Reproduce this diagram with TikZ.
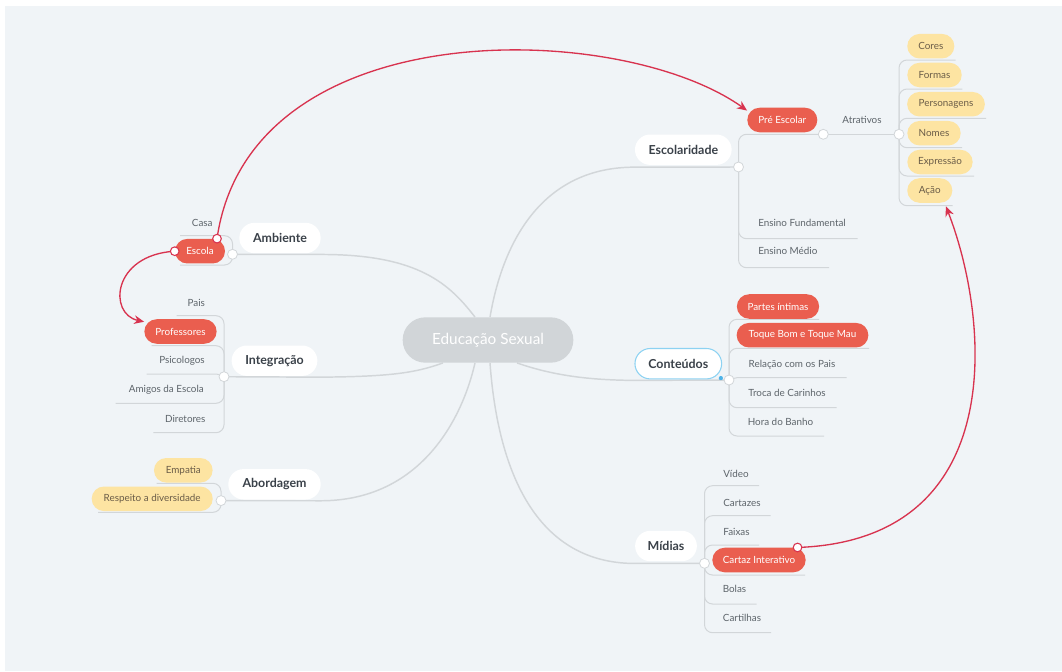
\documentclass[tikz,border=0pt]{standalone}
\usepackage{fontspec}
\setmainfont{Lato}
\usetikzlibrary{arrows.meta}
\definecolor{cbg}{HTML}{F0F4F7}
\definecolor{cline}{HTML}{D2D6D9}
\definecolor{cgray}{HTML}{D1D5D8}
\definecolor{cred}{HTML}{EA5E4F}
\definecolor{cyel}{HTML}{FDE4A2}
\definecolor{cdark}{HTML}{3A4149}
\definecolor{ctext}{HTML}{5E656B}
\definecolor{cbrown}{HTML}{6B5D48}
\definecolor{clink}{HTML}{D8334F}
\definecolor{cblue}{HTML}{8DD2F2}
\definecolor{cblued}{HTML}{4DB3E8}
\pgfdeclarelayer{bglayer}
\pgfdeclarelayer{linelayer}
\pgfdeclarelayer{toplayer}
\pgfsetlayers{bglayer,linelayer,main,toplayer}
\tikzset{
  ctrnode/.style={fill=cgray, text=white, rounded corners=16.9pt, minimum width=128pt, minimum height=34pt, font=\fontsize{11.5}{13}\selectfont, inner sep=0pt},
  mainnode/.style={fill=white, rounded corners=11.4pt, minimum height=22.8pt, text=cdark, font=\bfseries\fontsize{9.3}{11}\selectfont, inner sep=0pt},
  redpill/.style={fill=cred, text=white, rounded corners=9.2pt, minimum height=18.4pt, font=\fontsize{7.4}{9}\selectfont, inner xsep=6pt, inner ysep=0pt},
  yelpill/.style={fill=cyel, text=cbrown, rounded corners=9.2pt, minimum height=18.4pt, font=\fontsize{7.4}{9}\selectfont, inner xsep=6pt, inner ysep=0pt},
  leaf/.style={text=ctext, font=\fontsize{7.4}{9}\selectfont, inner sep=0pt},
  hub/.style={circle, fill=white, draw=cline, line width=0.6pt, minimum size=7.5pt, inner sep=0pt},
  ldot/.style={circle, fill=white, draw=clink, line width=0.8pt, minimum size=6.5pt, inner sep=0pt},
  conn/.style={draw=cline, line width=1.1pt},
  ul/.style={draw=cline, line width=0.75pt, rounded corners=6pt},
  link/.style={draw=clink, line width=1pt, -{Stealth[length=7.5pt,width=6.5pt]}},
}
\begin{document}
\begin{tikzpicture}[x=0.75pt,y=-0.75pt]
\useasboundingbox (0,0) rectangle (1062,671);
\begin{pgfonlayer}{bglayer}
\fill[cbg] (5,6) rectangle (1062,671);
\end{pgfonlayer}

% center
\node[ctrnode] (ctr) at (488,340) {Educação Sexual};

% main branches
\node[mainnode, minimum width=72.5pt] (esc) at (683.3,149.7) {Escolaridade};
\node[mainnode, minimum width=61pt] (amb) at (280,238) {Ambiente};
\node[mainnode, minimum width=64.3pt] (int) at (274.5,360.7) {Integração};
\node[mainnode, minimum width=69.3pt] (abo) at (274.5,484.3) {Abordagem};
\node[mainnode, minimum width=65pt, draw=cblue, line width=0.8pt] (con) at (678.3,363.7) {Conteúdos};
\node[mainnode, minimum width=46.3pt] (mid) at (666,546) {Mídias};

% Escolaridade
\node[redpill, minimum width=52.5pt] (pre) at (782.3,120) {Pré Escolar};
\node[leaf] (atr) at (862,120) {Atrativos};
\node[yelpill, minimum width=35.3pt] (cor) at (930.8,46.2) {Cores};
\node[yelpill, minimum width=40.8pt] (frm) at (934.5,75) {Formas};
\node[yelpill, minimum width=58.3pt] (per) at (946,104.2) {Personagens};
\node[yelpill, minimum width=40pt] (nom) at (934,133.2) {Nomes};
\node[yelpill, minimum width=49pt] (exp) at (940,162) {Expressão};
\node[yelpill, minimum width=33.8pt] (aca) at (929.8,190.5) {Ação};
\node[leaf] (ef) at (802,223) {Ensino Fundamental};
\node[leaf] (em) at (787.8,251.3) {Ensino Médio};

% Ambiente
\node[leaf] (casa) at (202.3,223.3) {Casa};
\node[redpill, minimum width=37.5pt] (escola) at (200,251.2) {Escola};

% Integracao
\node[leaf] (pais) at (196.3,303.3) {Pais};
\node[redpill, minimum width=54.2pt] (prof) at (180.5,331.5) {Professores};
\node[leaf] (psi) at (182,361) {Psicologos};
\node[leaf] (ami) at (166.3,390) {Amigos da Escola};
\node[leaf] (dir) at (185.3,419) {Diretores};

% Abordagem
\node[yelpill, minimum width=44pt] (emp) at (183.3,470.3) {Empatia};
\node[yelpill, minimum width=90.8pt] (res) at (152.2,498.8) {Respeito a diversidade};

% Conteudos
\node[redpill, minimum width=61.7pt] (par) at (778,306.5) {Partes íntimas};
\node[redpill, minimum width=98.8pt] (toq) at (802.5,335.2) {Toque Bom e Toque Mau};
\node[leaf] (rel) at (792,364.3) {Relação com os Pais};
\node[leaf] (tro) at (787,393.3) {Troca de Carinhos};
\node[leaf] (hor) at (780.5,421.7) {Hora do Banho};

% Midias
\node[leaf] (vid) at (736,474) {Vídeo};
\node[leaf] (ctz) at (742,502.7) {Cartazes};
\node[leaf] (fai) at (736.5,531.7) {Faixas};
\node[redpill, minimum width=70pt] (cin) at (759,560) {Cartaz Interativo};
\node[leaf] (bol) at (734.5,589.3) {Bolas};
\node[leaf] (cti) at (742,617.7) {Cartilhas};

% hubs
\node[hub] (escd) at (738.5,167) {};
\node[hub] (pred) at (823.3,134.3) {};
\node[hub] (atrd) at (899,134.3) {};
\node[hub] (ambd) at (232.5,254.3) {};
\node[hub] (intd) at (224,376.7) {};
\node[hub] (abod) at (221,500.6) {};
\node[hub] (cond) at (729,380) {};
\node[hub] (midd) at (704.5,563.3) {};
\fill[cblued] ([shift={(-1pt,1pt)}]con.south east) circle (1.6pt);

% underline end coordinates
\coordinate (uef) at (857.7,238.7);
\coordinate (uem) at (829,267.7);
\coordinate (ucor) at (955.7,60);
\coordinate (ufrm) at (962.3,89);
\coordinate (uper) at (986,118.3);
\coordinate (unom) at (962,147.7);
\coordinate (uexp) at (974,176);
\coordinate (uaca) at (952.7,205.7);
\coordinate (ucasa) at (180,235.7);
\coordinate (uescola) at (180,265);
\coordinate (upais) at (176.7,315.7);
\coordinate (uprof) at (151.7,345.7);
\coordinate (upsi) at (146.7,374);
\coordinate (uami) at (115.7,403.3);
\coordinate (udir) at (153.3,432.7);
\coordinate (uemp) at (156.7,483.3);
\coordinate (ures) at (98,512.3);
\coordinate (upar) at (819,319.3);
\coordinate (utoq) at (869,348.3);
\coordinate (urel) at (846.7,377.7);
\coordinate (utro) at (836.7,407.7);
\coordinate (uhor) at (824,436);
\coordinate (uvid) at (759,485.7);
\coordinate (uctz) at (770.7,515.7);
\coordinate (ufai) at (759,545);
\coordinate (ucin) at (805,575);
\coordinate (ubol) at (756.7,604);
\coordinate (ucti) at (771,632.7);

\begin{pgfonlayer}{linelayer}
% main connectors
\draw[conn] ([xshift=1.5pt]ctr.north) .. controls (505,230) and (550,167) .. ([yshift=-1.5pt]esc.south west) -- (escd.center);
\draw[conn] ([xshift=-9.75pt]ctr.north) .. controls (450,285) and (420,254.3) .. ([yshift=-0.75pt]amb.south east) -- (ambd.center);
\draw[conn] ([xshift=-33.75pt]ctr.south) .. controls (415,373) and (390,376.7) .. ([yshift=-0.75pt]int.south east) -- (intd.center);
\draw[conn] ([xshift=-9.75pt]ctr.south) .. controls (462,420) and (420,500.6) .. ([yshift=-0.75pt]abo.south east) -- (abod.center);
\draw[conn] ([xshift=21.75pt]ctr.south) .. controls (560,378) and (600,380) .. ([yshift=-0.75pt]con.south west) -- (cond.center);
\draw[conn] ([xshift=1.5pt]ctr.south) .. controls (497,460) and (530,563.3) .. ([yshift=-1.5pt]mid.south west) -- (midd.center);
% Escolaridade children
\draw[ul] (escd.center) |- (pred.center);
\draw[ul] (pred.center) -- (atrd.center);
\draw[ul] (escd.center) |- (uef);
\draw[ul] (escd.center) |- (uem);
\foreach \u in {ucor,ufrm,uper,unom,uexp,uaca} \draw[ul] (atrd.center) |- (\u);
% Ambiente
\foreach \u in {ucasa,uescola} \draw[ul] (ambd.center) |- (\u);
% Integracao
\foreach \u in {upais,uprof,upsi,uami,udir} \draw[ul] (intd.center) |- (\u);
% Abordagem
\foreach \u in {uemp,ures} \draw[ul] (abod.center) |- (\u);
% Conteudos
\foreach \u in {upar,utoq,urel,utro,uhor} \draw[ul] (cond.center) |- (\u);
% Midias
\foreach \u in {uvid,uctz,ufai,ucin,ubol,ucti} \draw[ul] (midd.center) |- (\u);
\end{pgfonlayer}

% links
\coordinate (escT) at ([xshift=-6.2pt]escola.north east);
\coordinate (escL) at (escola.west);
\coordinate (cinT) at ([xshift=-6.3pt]cin.north east);
\coordinate (acaT) at ([xshift=-5pt,yshift=-2.5pt]aca.south east);
\begin{pgfonlayer}{toplayer}
\draw[link] (escT) .. controls (250,10) and (620,20) .. (pre.165);
\draw[link] (escL) .. controls (112,255) and (108,314) .. (prof.165);
\draw[link] (cinT) .. controls (1010,540) and (990,320) .. (acaT);
\node[ldot] at (escT) {};
\node[ldot] at (escL) {};
\node[ldot] at (cinT) {};
\end{pgfonlayer}
\end{tikzpicture}
\end{document}
